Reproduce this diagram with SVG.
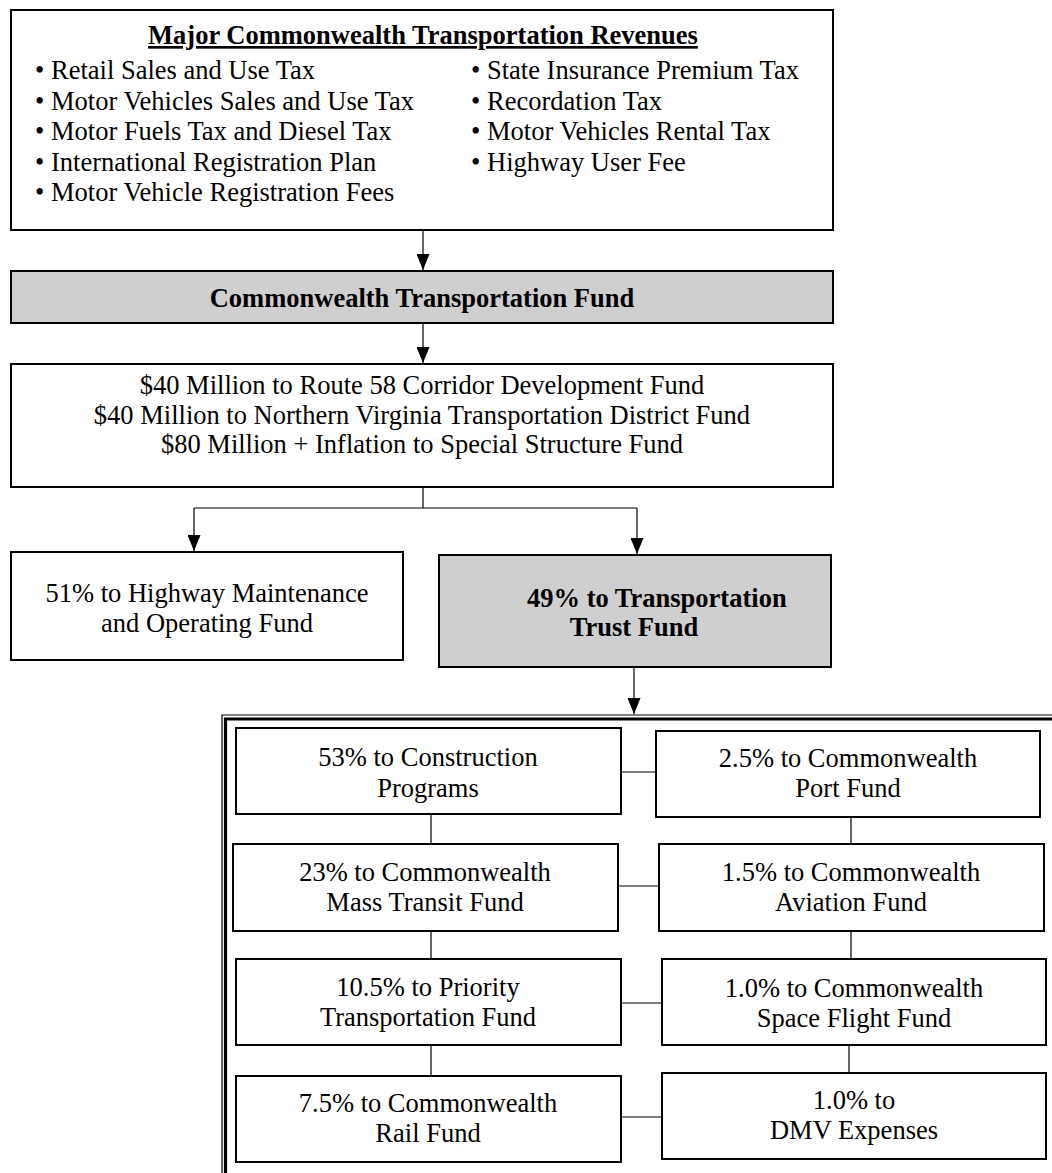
<svg xmlns="http://www.w3.org/2000/svg" width="1052" height="1173" viewBox="0 0 1052 1173">
<style>
text{font-family:"Liberation Serif","Times New Roman",serif;font-size:26.5px;fill:#000}
.b{font-weight:bold}
.c{text-anchor:middle}
.box{fill:#fff;stroke:#000;stroke-width:2}
.gray{fill:#d0cfcf;stroke:#000;stroke-width:2}
.ln{fill:none;stroke:#000;stroke-width:1.2}
.arr{fill:none;stroke:#000;stroke-width:1.2;marker-end:url(#ah)}
</style>
<defs>
<marker id="ah" viewBox="0 0 16 13" refX="16" refY="6.5" markerWidth="16" markerHeight="13" markerUnits="userSpaceOnUse" orient="auto">
<path d="M0,0 L16,6.5 L0,13 z" fill="#000"/>
</marker>
</defs>
<rect width="1052" height="1173" fill="#fff"/>

<g id="revenues">
<rect class="box" x="11" y="10" width="822" height="220"/>
<text class="b c" x="423" y="44" text-decoration="underline">Major Commonwealth Transportation Revenues</text>
<text x="35" y="79">•</text><text x="51" y="79">Retail Sales and Use Tax</text>
<text x="35" y="109.5">•</text><text x="51" y="109.5">Motor Vehicles Sales and Use Tax</text>
<text x="35" y="140">•</text><text x="51" y="140">Motor Fuels Tax and Diesel Tax</text>
<text x="35" y="170.5">•</text><text x="51" y="170.5">International Registration Plan</text>
<text x="35" y="201">•</text><text x="51" y="201">Motor Vehicle Registration Fees</text>
<text x="471" y="79">•</text><text x="487" y="79">State Insurance Premium Tax</text>
<text x="471" y="109.5">•</text><text x="487" y="109.5">Recordation Tax</text>
<text x="471" y="140">•</text><text x="487" y="140">Motor Vehicles Rental Tax</text>
<text x="471" y="170.5">•</text><text x="487" y="170.5">Highway User Fee</text>
</g>

<g id="ctf">
<rect class="gray" x="11" y="271" width="822" height="52"/>
<text class="b c" x="422" y="307">Commonwealth Transportation Fund</text>
</g>

<g id="setaside">
<rect class="box" x="11" y="364" width="822" height="123"/>
<text class="c" x="422" y="394">$40 Million to Route 58 Corridor Development Fund</text>
<text class="c" x="422" y="424">$40 Million to Northern Virginia Transportation District Fund</text>
<text class="c" x="422" y="453">$80 Million + Inflation to Special Structure Fund</text>
</g>

<g id="highway">
<rect class="box" x="11" y="552" width="392" height="108"/>
<text class="c" x="207" y="602">51% to Highway Maintenance</text>
<text class="c" x="207" y="632">and Operating Fund</text>
</g>

<g id="ttf">
<rect class="gray" x="439" y="555" width="392" height="112"/>
<text class="b" x="527" y="607">49% to Transportation</text>
<text class="b c" x="634" y="636">Trust Fund</text>
</g>

<g id="ttf-frame">
<path d="M222,1173 V715 H1052" fill="none" stroke="#000" stroke-width="1.2"/>
<path d="M225.5,1173 V719 H1052" fill="none" stroke="#000" stroke-width="3.2"/>
</g>

<g id="construction">
<rect class="box" x="236" y="728" width="385" height="86"/>
<text class="c" x="428" y="766">53% to Construction</text>
<text class="c" x="428" y="797">Programs</text>
</g>
<g id="masstransit">
<rect class="box" x="233" y="844" width="385" height="87"/>
<text class="c" x="425" y="881">23% to Commonwealth</text>
<text class="c" x="425" y="911">Mass Transit Fund</text>
</g>
<g id="priority">
<rect class="box" x="236" y="959" width="385" height="86"/>
<text class="c" x="428" y="996">10.5% to Priority</text>
<text class="c" x="428" y="1026">Transportation Fund</text>
</g>
<g id="rail">
<rect class="box" x="236" y="1076" width="385" height="86"/>
<text class="c" x="428" y="1112">7.5% to Commonwealth</text>
<text class="c" x="428" y="1142">Rail Fund</text>
</g>
<g id="port">
<rect class="box" x="656" y="731" width="384" height="86"/>
<text class="c" x="848" y="767">2.5% to Commonwealth</text>
<text class="c" x="848" y="797">Port Fund</text>
</g>
<g id="aviation">
<rect class="box" x="659" y="844" width="385" height="87"/>
<text class="c" x="851" y="881">1.5% to Commonwealth</text>
<text class="c" x="851" y="911">Aviation Fund</text>
</g>
<g id="spaceflight">
<rect class="box" x="662" y="959" width="384" height="86"/>
<text class="c" x="854" y="997">1.0% to Commonwealth</text>
<text class="c" x="854" y="1027">Space Flight Fund</text>
</g>
<g id="dmv">
<rect class="box" x="662" y="1073" width="384" height="86"/>
<text class="c" x="854" y="1109">1.0% to</text>
<text class="c" x="854" y="1139">DMV Expenses</text>
</g>

<g id="connectors">
<path class="arr" d="M423,230 V270"/>
<path class="arr" d="M423,323 V363"/>
<path class="ln" d="M423,487 V508 M194,508 H637"/>
<path class="arr" d="M194,508 V551"/>
<path class="arr" d="M637,508 V554"/>
<path class="arr" d="M634,667 V714"/>
<path class="ln" d="M431,814 V844 M431,931 V959 M431,1045 V1076"/>
<path class="ln" d="M851,817 V844 M851,931 V959 M849,1045 V1073"/>
<path class="ln" d="M621,772 H656 M618,886 H659 M621,1003 H662 M621,1117 H662"/>
</g>
</svg>
